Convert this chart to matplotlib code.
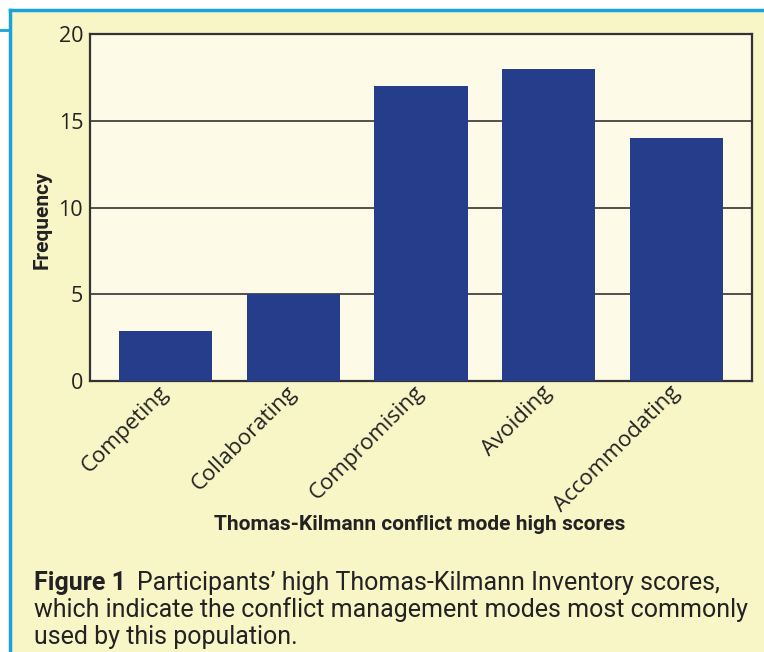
import matplotlib
matplotlib.use("Agg")
import matplotlib.pyplot as plt
from matplotlib.patches import Rectangle
from matplotlib.lines import Line2D

# --- data ---
modes = ["Competing", "Collaborating", "Compromising", "Avoiding", "Accommodating"]
frequency = [2.9, 5, 17, 18, 14]
y_ticks = [0, 5, 10, 15, 20]

W, H = 764, 652
fig = plt.figure(figsize=(W / 100, H / 100), dpi=100, facecolor="white")

# yellow panel with the blue frame
blue = "#1AA3D8"
fig.patches.append(Rectangle((10 / W, -0.01), 1.0, 1 - 10 / H + 0.01, transform=fig.transFigure,
                             facecolor="#F8F5C7", edgecolor="none", zorder=-5))
fig.lines.append(Line2D([10 / W, 10 / W], [0, 1 - 10 / H], transform=fig.transFigure, color=blue, lw=2.5))
fig.lines.append(Line2D([10 / W, 1], [1 - 10 / H, 1 - 10 / H], transform=fig.transFigure, color=blue, lw=2.5))
fig.lines.append(Line2D([0, 10 / W], [1 - 30 / H, 1 - 30 / H], transform=fig.transFigure, color=blue, lw=2))

ax = fig.add_axes([90 / W, 1 - 381 / H, 662 / W, 347 / H])
ax.set_zorder(5)
ax.set_facecolor("#FDFBE7")
ax.bar(range(len(modes)), frequency, width=0.73, color="#253D8B", zorder=3)

ax.set_xlim(-0.59, len(modes) - 1 + 0.59)
ax.set_ylim(0, 20)
ax.set_yticks(y_ticks)
ax.grid(axis="y", color="#222222", lw=1.1, zorder=1)
for s in ax.spines.values():
    s.set_color("#333333")
    s.set_linewidth(1.6)

ax.set_xticks(range(len(modes)))
ax.set_xticklabels(modes, rotation=45, ha="right", va="center", rotation_mode="anchor",
                   fontsize=16, family="Open Sans", color="#222222")
ax.tick_params(axis="x", length=0, pad=6)
ax.tick_params(axis="y", length=0, pad=5, labelsize=15.5, labelcolor="#222222")
for t in ax.get_yticklabels():
    t.set_family("Open Sans")

fig.text(42 / W, 1 - 220 / H, "Frequency", rotation=90, ha="center", va="center",
         fontsize=15, fontweight="bold", family="Roboto", color="#222222")
fig.text(420 / W, 1 - 525 / H, "Thomas-Kilmann conflict mode high scores", ha="center", va="center",
         fontsize=15, fontweight="bold", family="Roboto", color="#222222")

# caption
cap = dict(fontsize=18, color="#222222", family="Roboto")
fig.text(34 / W, 1 - 590 / H, "Figure 1", fontweight="bold", va="baseline", **cap)
fig.text(137 / W, 1 - 590 / H, "Participants\u2019 high Thomas-Kilmann Inventory scores,", va="baseline", **cap)
fig.text(34 / W, 1 - 617 / H, "which indicate the conflict management modes most commonly", va="baseline", **cap)
fig.text(34 / W, 1 - 644 / H, "used by this population.", va="baseline", **cap)

fig.savefig("out.png", dpi=100, facecolor="white")
